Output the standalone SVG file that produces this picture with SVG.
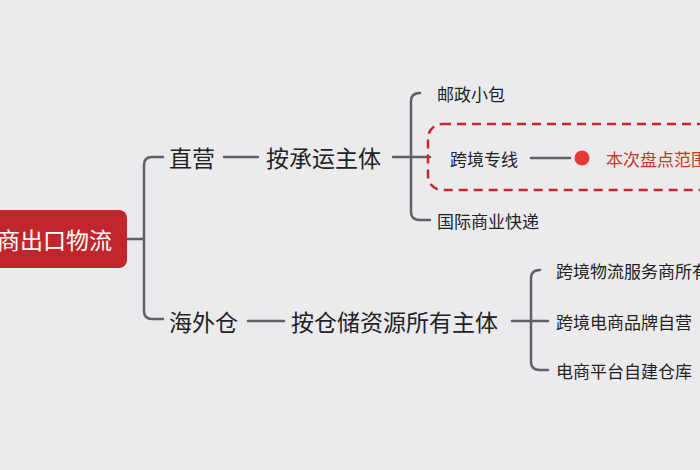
<svg xmlns="http://www.w3.org/2000/svg" width="700" height="470" viewBox="0 0 700 470">
<style>
text{font-family:"Noto Sans CJK SC","Noto Sans",sans-serif;fill:#222;dominant-baseline:central}
.l{fill:none;stroke:#5f6168;stroke-width:2.5;stroke-linecap:round}
.b{font-size:23px}.s{font-size:17px}
</style>
<rect width="700" height="470" fill="#ebebee"/>
<g id="connectors">
<path class="l" d="M127 239H143M163 157H152Q144 157 144 165V311Q144 319 152 319H163"/>
<path class="l" d="M224 157H258M248 321H284"/>
<path class="l" d="M393 157H430M420 93Q411 93 411 101V212Q411 220 420 220H430"/>
<path class="l" d="M531 158H570M512 321H548M540 270Q531 270 531 278V362Q531 370 540 370H548"/>
</g>
<g id="root"><rect x="-100" y="210" width="227" height="58" rx="8" fill="#c0262b"/><text x="112" y="239" text-anchor="end" style="fill:#fff;font-size:23px">跨境电商出口物流</text></g>
<g id="zhiying"><text class="b" x="169" y="157">直营</text></g>
<g id="chengyun"><text class="b" x="266" y="157">按承运主体</text></g>
<g id="youzheng"><text class="s" x="437" y="93">邮政小包</text></g>
<g id="zhuanxian"><rect x="428" y="124" width="300" height="66" rx="14" fill="none" stroke="#c62828" stroke-width="2.5" stroke-dasharray="9 6"/><text class="s" x="450" y="158">跨境专线</text></g>
<g id="fanwei"><circle cx="582" cy="158" r="7.5" fill="#e53935"/><text class="s" x="606" y="158" style="fill:#c0392b">本次盘点范围</text></g>
<g id="kuaidi"><text class="s" x="437" y="220">国际商业快递</text></g>
<g id="haiwai"><text class="b" x="169" y="321">海外仓</text></g>
<g id="cangchu"><text class="b" x="291" y="321">按仓储资源所有主体</text></g>
<g id="c1"><text class="s" x="556" y="270">跨境物流服务商所有</text></g>
<g id="c2"><text class="s" x="556" y="321">跨境电商品牌自营</text></g>
<g id="c3"><text class="s" x="556" y="370">电商平台自建仓库</text></g>
</svg>
